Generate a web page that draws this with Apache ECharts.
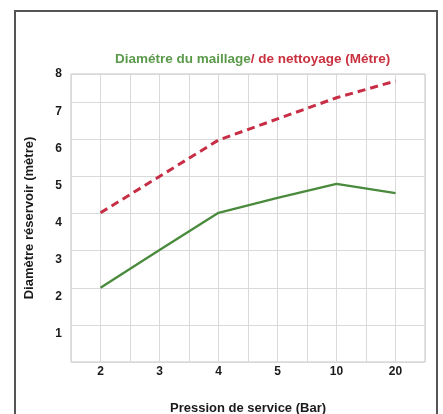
<!DOCTYPE html>
<html><head><meta charset="utf-8">
<script src="https://cdn.jsdelivr.net/npm/echarts@6/dist/echarts.min.js"></script>
<style>
html,body{margin:0;padding:0;background:#fff;}
#c{position:absolute;left:0;top:0;width:443px;height:414px;}
#frame{position:absolute;left:14px;top:10px;width:420px;height:420px;border:2px solid #555;pointer-events:none;}
</style></head>
<body>
<div id="c"></div>
<div id="frame"></div>
<script>
const categories = ['2', '3', '4', '5', '10', '20'];
const maillage = [2, 3.02, 4.02, 4.42, 4.8, 4.55];
const nettoyage = [4.02, 5, 5.98, 6.55, 7.12, 7.57];
const yTickLabels = [1, 2, 3, 4, 5, 6, 7, 8];
const titleGreen = 'Diamétre du maillage';
const titleRed = '/ de nettoyage (Métre)';
const xName = 'Pression de service (Bar)';
const yName = 'Diamètre réservoir (mètre)';

const FONT = 'Liberation Sans, Arial, sans-serif';
const chart = echarts.init(document.getElementById('c'), null, {renderer: 'canvas'});
const yMax = 7.76, labelShift = 0.245;
chart.setOption({
  backgroundColor: '#fff',
  animation: false,
  title: {
    text: '{g|' + titleGreen + '}{r|' + titleRed + '}',
    left: 110, top: 47,
    textStyle: {
      rich: {
        g: {color: '#5b9a4b', fontSize: 13.5, fontWeight: 'bold', fontFamily: FONT},
        r: {color: '#c9313f', fontSize: 13.5, fontWeight: 'bold', fontFamily: FONT}
      }
    }
  },
  grid: {left: 71, right: 18, top: 74, bottom: 52, outerBoundsMode: 'none', containLabel: false,
         show: true, borderColor: '#c4c4c4', borderWidth: 1, backgroundColor: 'transparent'},
  xAxis: [
    {
      type: 'category', data: categories, boundaryGap: true,
      axisLine: {show: false}, axisTick: {show: false}, splitLine: {show: false},
      axisLabel: {color: '#1a1a1a', fontSize: 12, fontWeight: 'bold', fontFamily: FONT, margin: 4},
      name: xName, nameLocation: 'middle', nameGap: 40,
      nameTextStyle: {color: '#1a1a1a', fontSize: 13, fontWeight: 'bold', fontFamily: FONT}
    },
    {
      type: 'value', min: 0, max: 12, interval: 1, position: 'bottom',
      axisLine: {show: false}, axisTick: {show: false}, axisLabel: {show: false},
      splitLine: {show: true, lineStyle: {color: '#d9d9d9', width: 1}}
    }
  ],
  yAxis: [
    {
      type: 'value', min: 0, max: yMax, interval: 1, position: 'left',
      axisLine: {show: false}, axisTick: {show: false}, axisLabel: {show: false},
      splitLine: {show: true, lineStyle: {color: '#d9d9d9', width: 1}},
      name: yName, nameLocation: 'middle', nameGap: 35,
      nameTextStyle: {color: '#1a1a1a', fontSize: 13, fontWeight: 'bold', fontFamily: FONT}
    },
    {
      type: 'value', min: labelShift, max: yMax + labelShift, position: 'left', offset: 0,
      axisLine: {show: false}, axisTick: {show: false}, splitLine: {show: false},
      axisLabel: {customValues: yTickLabels, color: '#1a1a1a', fontSize: 12, fontWeight: 'bold', fontFamily: FONT, margin: 9}
    }
  ],
  series: [
    {
      type: 'line', data: maillage, xAxisIndex: 0, yAxisIndex: 0,
      symbol: 'none', lineStyle: {color: '#4a8a3c', width: 2.3}
    },
    {
      type: 'line', data: nettoyage, xAxisIndex: 0, yAxisIndex: 0,
      symbol: 'none', lineStyle: {color: '#c72e45', width: 3, type: [8, 5]}
    }
  ]
});
</script>
</body></html>
